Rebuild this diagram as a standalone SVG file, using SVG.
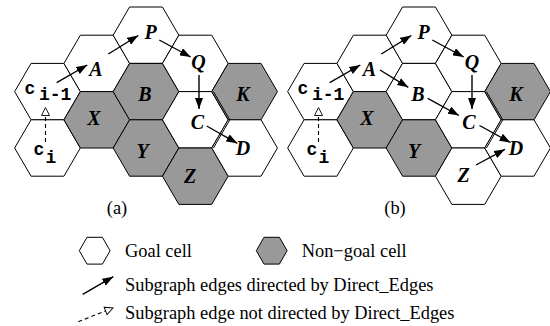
<svg xmlns="http://www.w3.org/2000/svg" xmlns:xlink="http://www.w3.org/1999/xlink" width="550" height="326" viewBox="0 0 550 326">
<style>
.w{fill:#fff;stroke:#000;stroke-width:1}
.g{fill:#999;stroke:#000;stroke-width:1}
.lbl{font-family:"Liberation Serif","Times New Roman",serif;font-weight:bold;font-style:italic;font-size:20px;text-anchor:middle;fill:#000}
.mono{font-family:"Liberation Mono","Courier New",monospace;font-weight:bold;font-size:18px;fill:#000}
.cap{font-family:"Liberation Serif","Times New Roman",serif;font-size:18.4px;text-anchor:middle;fill:#000}
.leg{font-family:"Liberation Serif","Times New Roman",serif;font-size:18.4px;fill:#000}
.e{fill:none;stroke:#000;stroke-width:1.4;marker-end:url(#ah)}
.d{fill:none;stroke:#000;stroke-width:1.1;stroke-dasharray:4 3;marker-end:url(#oh)}
.dbl{fill:none;stroke:#000;stroke-width:1}
</style>
<defs>
<polygon id="hex" points="-32.85,0 -16.43,-28.2 16.43,-28.2 32.85,0 16.43,28.2 -16.43,28.2"/>
<polygon id="shex" points="-15.4,0 -7.7,-13.4 7.7,-13.4 15.4,0 7.7,13.4 -7.7,13.4"/>
<marker id="ah" markerUnits="userSpaceOnUse" markerWidth="11" markerHeight="8" refX="11" refY="4" orient="auto" viewBox="0 0 11 8"><path d="M0,0 L11,4 L0,8 z" fill="#000"/></marker>
<marker id="oh" markerUnits="userSpaceOnUse" markerWidth="10" markerHeight="10" refX="0" refY="4" orient="auto" viewBox="-1 -1 10 10"><path d="M0,0 L8,4 L0,8 z" fill="#fff" stroke="#000" stroke-width="0.9"/></marker>
</defs>

<!-- Panel (a) -->
<g id="panel-a">
<g id="a-ci1"><use xlink:href="#hex" class="w" x="47.5" y="91.6"/><text class="mono" x="24.5" y="93.5">c<tspan x="39" y="100">i-1</tspan></text></g>
<g id="a-ci"><use xlink:href="#hex" class="w" x="47.5" y="148"/><text class="mono" x="33.5" y="155">c<tspan x="45.5" y="163">i</tspan></text></g>
<g id="a-A"><use xlink:href="#hex" class="w" x="96.8" y="63.4"/><text class="lbl" x="96" y="75.5">A</text></g>
<g id="a-X"><use xlink:href="#hex" class="g" x="96.8" y="119.8"/><text class="lbl" x="94" y="125.2">X</text></g>
<g id="a-P"><use xlink:href="#hex" class="w" x="146" y="35.2"/><text class="lbl" x="150.5" y="38.5">P</text></g>
<g id="a-B"><use xlink:href="#hex" class="g" x="146" y="91.6"/><text class="lbl" x="145" y="101">B</text></g>
<g id="a-Y"><use xlink:href="#hex" class="g" x="146" y="148"/><text class="lbl" x="142.5" y="157.5">Y</text></g>
<g id="a-Q"><use xlink:href="#hex" class="w" x="195.3" y="63.4"/><text class="lbl" x="198.5" y="68.5">Q</text></g>
<g id="a-C"><use xlink:href="#hex" class="w" x="195.3" y="119.8"/><text class="lbl" x="197.5" y="129">C</text></g>
<g id="a-Z"><use xlink:href="#hex" class="g" x="195.3" y="176.2"/><text class="lbl" x="190" y="182.5">Z</text></g>
<g id="a-K"><use xlink:href="#hex" class="g" x="244.6" y="91.6"/><text class="lbl" x="243" y="101">K</text></g>
<g id="a-D"><use xlink:href="#hex" class="w" x="244.6" y="148"/><text class="lbl" x="243" y="154.5">D</text></g>
<polyline class="dbl" points="213.4,91.6 229.8,119.8 213.4,148"/>
<text class="cap" x="117" y="214">(a)</text>
</g>

<!-- Panel (b) -->
<g id="panel-b">
<g id="b-ci1"><use xlink:href="#hex" class="w" x="320.5" y="91.6"/><text class="mono" x="297.5" y="93.5">c<tspan x="312" y="100">i-1</tspan></text></g>
<g id="b-ci"><use xlink:href="#hex" class="w" x="320.5" y="148"/><text class="mono" x="306.5" y="155">c<tspan x="318.5" y="163">i</tspan></text></g>
<g id="b-A"><use xlink:href="#hex" class="w" x="369.8" y="63.4"/><text class="lbl" x="369.5" y="75.5">A</text></g>
<g id="b-X"><use xlink:href="#hex" class="g" x="369.8" y="119.8"/><text class="lbl" x="367" y="125.2">X</text></g>
<g id="b-P"><use xlink:href="#hex" class="w" x="419" y="35.2"/><text class="lbl" x="423.5" y="38.5">P</text></g>
<g id="b-B"><use xlink:href="#hex" class="w" x="419" y="91.6"/><text class="lbl" x="418" y="101">B</text></g>
<g id="b-Y"><use xlink:href="#hex" class="g" x="419" y="148"/><text class="lbl" x="414" y="157.5">Y</text></g>
<g id="b-Q"><use xlink:href="#hex" class="w" x="468.3" y="63.4"/><text class="lbl" x="472" y="68.5">Q</text></g>
<g id="b-C"><use xlink:href="#hex" class="w" x="468.3" y="119.8"/><text class="lbl" x="469" y="129">C</text></g>
<g id="b-Z"><use xlink:href="#hex" class="w" x="468.3" y="176.2"/><text class="lbl" x="463.5" y="181.5">Z</text></g>
<g id="b-K"><use xlink:href="#hex" class="g" x="517.6" y="91.6"/><text class="lbl" x="516" y="101">K</text></g>
<g id="b-D"><use xlink:href="#hex" class="w" x="517.6" y="148"/><text class="lbl" x="516" y="154.5">D</text></g>
<polyline class="dbl" points="486.4,91.6 502.8,119.8 486.4,148"/>
<text class="cap" x="395" y="214">(b)</text>
</g>

<!-- Connectors -->
<g id="connectors">
<line class="e" x1="56.7" y1="82.7" x2="87.3" y2="65"/>
<line class="e" x1="108.3" y1="54" x2="138.3" y2="35.5"/>
<line class="e" x1="159.3" y1="40" x2="190.7" y2="57"/>
<line class="e" x1="199" y1="75" x2="199" y2="109"/>
<line class="e" x1="206.7" y1="126" x2="237.3" y2="143.3"/>
<line class="d" x1="45.5" y1="142" x2="45.5" y2="115.5"/>

<line class="e" x1="329.7" y1="82.7" x2="360.3" y2="65"/>
<line class="e" x1="381.3" y1="54" x2="411.3" y2="35.5"/>
<line class="e" x1="432.3" y1="40" x2="463.7" y2="57"/>
<line class="e" x1="472" y1="75" x2="472" y2="109"/>
<line class="e" x1="380" y1="70" x2="408.3" y2="87.3"/>
<line class="e" x1="427.7" y1="98.3" x2="459" y2="115.5"/>
<line class="e" x1="479.5" y1="125.5" x2="510.5" y2="142.5"/>
<line class="e" x1="476" y1="165" x2="505" y2="149.3"/>
<line class="d" x1="318.5" y1="142" x2="318.5" y2="115.5"/>
</g>

<!-- Legend -->
<g id="legend">
<use xlink:href="#shex" class="w" x="94.7" y="250.7"/>
<text class="leg" x="125" y="257">Goal cell</text>
<use xlink:href="#shex" class="g" x="271.7" y="250.7"/>
<text class="leg" x="301.7" y="257">Non−goal cell</text>
<line class="e" x1="82.7" y1="294.3" x2="113.3" y2="276.7"/>
<text class="leg" x="125" y="291">Subgraph edges directed by Direct_Edges</text>
<line class="d" x1="78.3" y1="321.7" x2="105.6" y2="310.9"/>
<text class="leg" x="125" y="318.5">Subgraph edge not directed by Direct_Edges</text>
</g>
</svg>
